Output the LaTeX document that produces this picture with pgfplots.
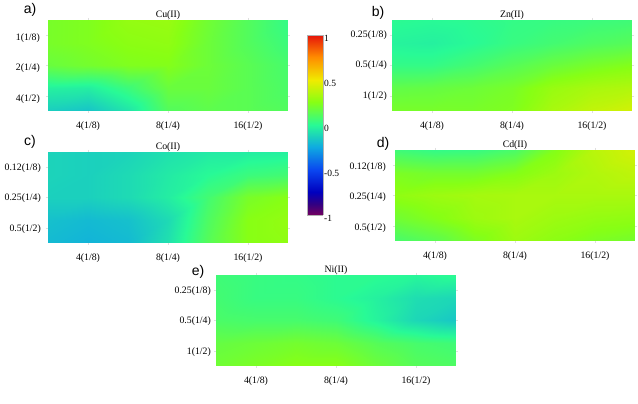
\documentclass[border=0pt]{standalone}
\usepackage{pgfplots}
\pgfplotsset{compat=1.18}
\usepackage{fontspec}
\setmainfont{Liberation Serif}
\newfontfamily\lettersf{Liberation Sans}

\pgfplotsset{
  colormap={cb}{
    rgb255(0pt)=(115,0,95); rgb255(12pt)=(50,0,130); rgb255(25pt)=(0,0,190);
    rgb255(50pt)=(10,70,240); rgb255(75pt)=(15,170,225); rgb255(100pt)=(40,250,150);
    rgb255(125pt)=(135,255,20); rgb255(150pt)=(240,235,0); rgb255(175pt)=(255,140,0);
    rgb255(200pt)=(230,20,10)
  },
  every axis title shift=0pt,
  panel/.style n args={3}{
    scale only axis, width=240pt, height=91pt,
    anchor=south west, view={0}{90},
    xmin=0.5, xmax=3.5, ymin=0.5, ymax=3.5, y dir=reverse,
    xtick={1,2,3}, ytick={1,2,3},
    xticklabels={4(1/8),8(1/4),16(1/2)},
    axis line style={draw=none},
    tick style={draw=gray!25, major tick length=2pt},
    tick align=outside,
    ticklabel style={font=\fontsize{9.8}{10}\selectfont},
    y tick label style={xshift=#2, yshift=#3, inner sep=0pt},
    x tick label style={yshift=-5pt},
    title style={at={(0.5,1)}, anchor=south, inner sep=0.5pt, font=\fontsize{9.8}{10}\selectfont},
    title={#1},
    point meta min=-1, point meta max=1,
  },
  heat/.style={surf, shader=interp, mesh/cols=7, mesh/ordering=x varies},
}

\begin{document}
\begin{tikzpicture}[x=1pt,y=1pt]
\useasboundingbox (0,0) rectangle (638,404);

% a) Cu
\begin{axis}[panel={Cu(II)}{-6pt}{-3pt}, at={(48pt,293pt)}, yticklabels={1(1/8),2(1/4),4(1/2)}]
\addplot3[heat] coordinates {
(0.5,0.5,.21)(1,0.5,.23)(1.5,0.5,.28)(2,0.5,.29)(2.5,0.5,.19)(3,0.5,.11)(3.5,0.5,.03)
(0.5,1.25,.21)(1,1.25,.23)(1.5,1.25,.26)(2,1.25,.27)(2.5,1.25,.18)(3,1.25,.11)(3.5,1.25,.05)
(0.5,2,.17)(1,2,.20)(1.5,2,.23)(2,2,.24)(2.5,2,.18)(3,2,.13)(3.5,2,.08)
(0.5,2.75,-.03)(1,2.75,-.04)(1.5,2.75,.05)(2,2.75,.17)(2.5,2.75,.17)(3,2.75,.13)(3.5,2.75,.09)
(0.5,3.5,-.14)(1,3.5,-.17)(1.5,3.5,-.07)(2,3.5,.11)(2.5,3.5,.14)(3,3.5,.13)(3.5,3.5,.11)
};
\end{axis}

% b) Zn
\begin{axis}[panel={Zn(II)}{-3pt}{0pt}, at={(392pt,293pt)}, yticklabels={0.25(1/8),0.5(1/4),1(1/2)}]
\addplot3[heat] coordinates {
(0.5,0.5,.01)(1,0.5,0)(1.5,0.5,.01)(2,0.5,.03)(2.5,0.5,.04)(3,0.5,.05)(3.5,0.5,.06)
(0.5,1.25,-.02)(1,1.25,-.03)(1.5,1.25,0)(2,1.25,.04)(2.5,1.25,.07)(3,1.25,.10)(3.5,1.25,.12)
(0.5,2,.03)(1,2,.03)(1.5,2,.07)(2,2,.12)(2.5,2,.17)(3,2,.21)(3.5,2,.24)
(0.5,2.75,.15)(1,2.75,.16)(1.5,2.75,.18)(2,2.75,.21)(2.5,2.75,.29)(3,2.75,.33)(3.5,2.75,.35)
(0.5,3.5,.21)(1,3.5,.21)(1.5,3.5,.21)(2,3.5,.23)(2.5,3.5,.33)(3,3.5,.39)(3.5,3.5,.43)
};
\end{axis}

% c) Co
\begin{axis}[panel={Co(II)}{-5pt}{-1pt}, at={(48pt,161pt)}, yticklabels={0.12(1/8),0.25(1/4),0.5(1/2)}]
\addplot3[heat] coordinates {
(0.5,0.5,-.12)(1,0.5,-.13)(1.5,0.5,-.12)(2,0.5,-.08)(2.5,0.5,-.05)(3,0.5,-.04)(3.5,0.5,-.03)
(0.5,1.25,-.12)(1,1.25,-.13)(1.5,1.25,-.10)(2,1.25,-.05)(2.5,1.25,0)(3,1.25,.05)(3.5,1.25,.07)
(0.5,2,-.13)(1,2,-.13)(1.5,2,-.10)(2,2,-.04)(2.5,2,.07)(3,2,.21)(3.5,2,.25)
(0.5,2.75,-.18)(1,2.75,-.20)(1.5,2.75,-.18)(2,2.75,-.10)(2.5,2.75,.10)(3,2.75,.25)(3.5,2.75,.28)
(0.5,3.5,-.20)(1,3.5,-.22)(1.5,3.5,-.20)(2,3.5,-.08)(2.5,3.5,.12)(3,3.5,.25)(3.5,3.5,.27)
};
\end{axis}

% d) Cd
\begin{axis}[panel={Cd(II)}{-7pt}{-2pt}, at={(395pt,163pt)}, yticklabels={0.12(1/8),0.25(1/4),0.5(1/2)}]
\addplot3[heat] coordinates {
(0.5,0.5,.06)(1,0.5,.03)(1.5,0.5,.04)(2,0.5,.09)(2.5,0.5,.24)(3,0.5,.37)(3.5,0.5,.43)
(0.5,1.25,.22)(1,1.25,.20)(1.5,1.25,.20)(2,1.25,.24)(2.5,1.25,.30)(3,1.25,.35)(3.5,1.25,.38)
(0.5,2,.27)(1,2,.30)(1.5,2,.32)(2,2,.33)(2.5,2,.33)(3,2,.33)(3.5,2,.33)
(0.5,2.75,.19)(1,2.75,.24)(1.5,2.75,.30)(2,2.75,.33)(2.5,2.75,.30)(3,2.75,.28)(3.5,2.75,.27)
(0.5,3.5,.08)(1,3.5,.13)(1.5,3.5,.22)(2,3.5,.30)(2.5,3.5,.26)(3,3.5,.22)(3.5,3.5,.20)
};
\end{axis}

% e) Ni
\begin{axis}[panel={Ni(II)}{-3pt}{-1pt}, at={(216pt,38pt)}, yticklabels={0.25(1/8),0.5(1/4),1(1/2)}]
\addplot3[heat] coordinates {
(0.5,0.5,.06)(1,0.5,.04)(1.5,0.5,.03)(2,0.5,.01)(2.5,0.5,.01)(3,0.5,-.01)(3.5,0.5,.01)
(0.5,1.25,.07)(1,1.25,.04)(1.5,1.25,.04)(2,1.25,.01)(2.5,1.25,-.03)(3,1.25,-.09)(3.5,1.25,-.11)
(0.5,2,.09)(1,2,.08)(1.5,2,.08)(2,2,.06)(2.5,2,-.02)(3,2,-.11)(3.5,2,-.16)
(0.5,2.75,.16)(1,2.75,.18)(1.5,2.75,.20)(2,2.75,.18)(2.5,2.75,.12)(3,2.75,.08)(3.5,2.75,.06)
(0.5,3.5,.19)(1,3.5,.22)(1.5,3.5,.25)(2,3.5,.25)(2.5,3.5,.18)(3,3.5,.12)(3.5,3.5,.10)
};
\end{axis}

% colour bar
\begin{axis}[
  scale only axis, width=16pt, height=180pt, anchor=south west, at={(307pt,189pt)},
  view={0}{90}, xmin=0, xmax=1, ymin=-1, ymax=1,
  xtick=\empty, ytick={-1,-0.5,0,0.5,1},
  yticklabels={-1,-0.5,0,0.5,1},
  yticklabel pos=right,
  axis line style={draw=gray!60, line width=0.3pt},
  tick style={draw=none},
  y tick label style={font=\fontsize{9.5}{10}\selectfont, yshift=-3pt, inner sep=1pt},
  point meta=y, point meta min=-1, point meta max=1,
]
\addplot3[surf, shader=interp, mesh/cols=2, mesh/ordering=x varies] coordinates {
(0,-1,0)(1,-1,0)
(0,-.88,0)(1,-.88,0)
(0,-.75,0)(1,-.75,0)
(0,-.5,0)(1,-.5,0)
(0,-.25,0)(1,-.25,0)
(0,0,0)(1,0,0)
(0,.25,0)(1,.25,0)
(0,.5,0)(1,.5,0)
(0,.75,0)(1,.75,0)
(0,1,0)(1,1,0)
};
\end{axis}

\node[font=\lettersf\fontsize{14}{14}\selectfont] at (30,394) {a)};
\node[font=\lettersf\fontsize{14}{14}\selectfont] at (378,391) {b)};
\node[font=\lettersf\fontsize{14}{14}\selectfont] at (30,262) {c)};
\node[font=\lettersf\fontsize{14}{14}\selectfont] at (383,260) {d)};
\node[font=\lettersf\fontsize{14}{14}\selectfont] at (198,132) {e)};
\end{tikzpicture}
\end{document}
